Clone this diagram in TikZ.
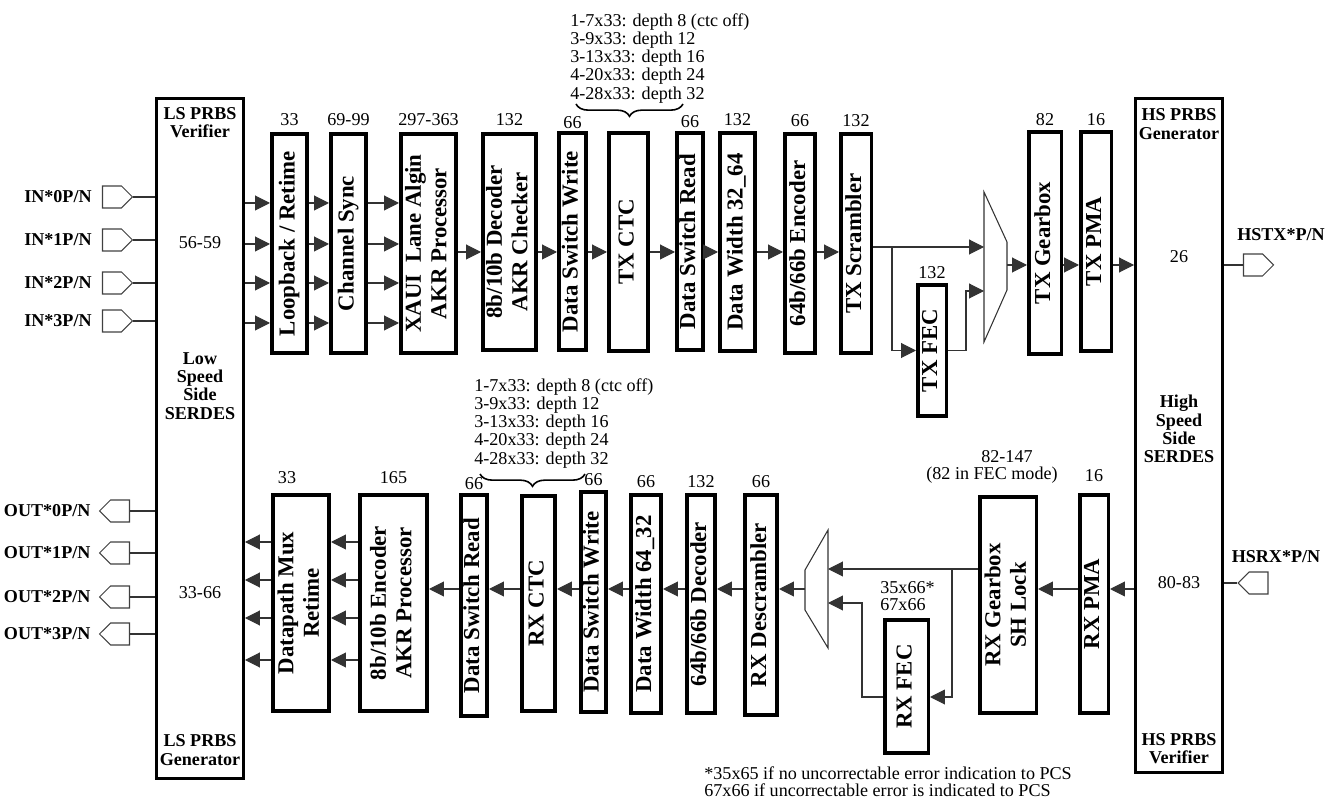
\documentclass[tikz,border=0pt]{standalone}
\usepackage{fontspec}
\setmainfont{Liberation Serif}
\usepackage{graphicx}
\usetikzlibrary{positioning}
\usetikzlibrary{arrows.meta}
\usetikzlibrary{shapes.symbols}
\usetikzlibrary{decorations.pathreplacing}

\newcommand{\vlbl}[1]{\rotatebox{90}{\begin{tabular}{@{}c@{}}#1\end{tabular}}}

\tikzset{
  blk/.style={draw, line width=2pt, inner sep=0pt, font=\fontsize{13}{14.5}\selectfont\bfseries},
  bw/.style={minimum width=#1*0.02cm},
  bh/.style={minimum height=#1*0.02cm},
  serdes/.style={draw, line width=1.7pt, inner sep=0pt},
  slbl/.style={font=\fontsize{10.3}{10.4}\selectfont\bfseries, align=center, inner sep=0pt},
  num/.style={font=\fontsize{10.3}{10.4}\selectfont, inner sep=0pt},
  note/.style={font=\fontsize{10.3}{10.4}\selectfont, align=left, inner sep=0pt},
  pin/.style={signal, draw=black!75, line width=0.6pt, inner sep=0pt, minimum width=0.6cm, minimum height=0.44cm},
  pinlbl/.style={font=\fontsize{10.3}{10.4}\selectfont\bfseries, inner sep=0pt},
  wire/.style={draw=black!80, line width=0.6pt},
  arr/.style={wire, -{Triangle[length=8.5pt,width=8.5pt]}},
  mux/.style={draw=black!80, line width=0.6pt},
  brc/.style={decorate, decoration={brace, mirror, amplitude=7pt}, line width=0.9pt},
}

\begin{document}
\begin{tikzpicture}[x=0.02cm, y=-0.02cm]
    \useasboundingbox (0,0) rectangle (1333,800);

    % serdes blocks
    \node[serdes, bw=87, bh=680] (ls) at (200,438.5) {};
    \node[serdes, bw=87, bh=674] (hs) at (1179,435.5) {};

    \node[slbl] (lsv) at (200,123) {LS PRBS\\Verifier};
    \node[num] (lsn1) at (200,243) {56-59};
    \node[slbl] (lsd) at (200,386) {Low\\Speed\\Side\\SERDES};
    \node[num] (lsn2) at (200,593) {33-66};
    \node[slbl] (lsg) at (200,750) {LS PRBS\\Generator};

    \node[slbl] (hsg) at (1179,124) {HS PRBS\\Generator};
    \node[num] (hsn1) at (1179,257) {26};
    \node[slbl] (hsd) at (1179,429) {High\\Speed\\Side\\SERDES};
    \node[num] (hsn2) at (1179,583) {80-83};
    \node[slbl] (hsv) at (1179,749) {HS PRBS\\Verifier};

    % pins
    \foreach \i/\y in {0/197,1/240,2/283,3/321} {
        \node[pin, signal to=east] (in\i) at (112,\y) {};
        \node[pinlbl, left=0.2cm of in\i] (inl\i) {IN*\i P/N};
        \draw[wire] (in\i.east) -- (ls.west |- in\i);
    }
    \foreach \i/\y in {0/511,1/553,2/597,3/634} {
        \node[pin, signal to=west] (out\i) at (120,\y) {};
        \node[pinlbl, left=0.16cm of out\i] (outl\i) {OUT*\i P/N};
        \draw[wire] (out\i.east) -- (ls.west |- out\i);
    }
    \node[pin, signal to=east] (hstx) at (1253,265) {};
    \draw[wire] (hs.east |- hstx) -- (hstx.west);
    \node[pinlbl] (hstxl) at (1281,235) {HSTX*P/N};
    \node[pin, signal to=west] (hsrx) at (1258.5,583) {};
    \draw[wire] (hs.east |- hsrx) -- (hsrx.west);
    \node[pinlbl] (hsrxl) at (1276,557) {HSRX*P/N};

    % transmit path
    \node[blk, bw=35.5, bh=219.5] (lbk) at (289.5,243.5) {\vlbl{Loopback / Retime}};
    \node[blk, bw=35.5, bh=219.5] (chs) at (348.5,243.5) {\vlbl{Channel Sync}};
    \node[blk, bw=55.5, bh=219.5] (xaui) at (428.5,243.5) {\vlbl{XAUI~ Lane Algin\\AKR Processor}};
    \node[blk, bw=53.5, bh=216.5] (dec8) at (509.5,242) {\vlbl{8b/10b Decoder\\AKR Checker}};
    \node[blk, bw=27.5, bh=217.5] (dswt) at (572.5,241.5) {\vlbl{Data Switch Write}};
    \node[blk, bw=39.5, bh=218.5] (txctc) at (628.5,242) {\vlbl{TX CTC}};
    \node[blk, bw=26.5, bh=217.5] (dsrt) at (690,241.5) {\vlbl{Data Switch Read}};
    \node[blk, bw=35.5, bh=218.5] (dw3264) at (737.5,242) {\vlbl{Data Width 32\_64}};
    \node[blk, bw=30.5, bh=219.5] (enc64) at (800,243.5) {\vlbl{64b/66b Encoder}};
    \node[blk, bw=30.5, bh=219.5] (scr) at (856,243.5) {\vlbl{TX Scrambler}};
    \node[blk, bw=28.5, bh=131.5] (txfec) at (932,350.5) {\vlbl{TX FEC}};
    \node[blk, bw=32.5, bh=222.5] (txgb) at (1045,243) {\vlbl{TX Gearbox}};
    \node[blk, bw=30.5, bh=219.5] (txpma) at (1096,241.5) {\vlbl{TX PMA}};

    \node[num, above=3.5pt of lbk] (lbkn) {33};
    \node[num, above=3.5pt of chs] (chsn) {69-99};
    \node[num, above=3.5pt of xaui] (xauin) {297-363};
    \node[num, above=3.5pt of dec8] (dec8n) {132};
    \node[num, above=1pt of dswt] (dswtn) {66};
    \node[num, above=1.5pt of dsrt] (dsrtn) {66};
    \node[num, above=3pt of dw3264] (dw3264n) {132};
    \node[num, above=3pt of enc64] (enc64n) {66};
    \node[num, above=3pt of scr] (scrn) {132};
    \node[num, above=2.5pt of txfec] (txfecn) {132};
    \node[num, above=2pt of txgb] (txgbn) {82};
    \node[num, above=2pt of txpma] (txpman) {16};

    \node[note, anchor=north west] (txnote) at (570,13) {1-7x33: depth 8 (ctc off)\\3-9x33: depth 12\\3-13x33: depth 16\\4-20x33: depth 24\\4-28x33: depth 32};
    \draw[brc] (576,104) -- (683,104);

    \foreach \y in {203,244,283,323} {
        \draw[arr] (ls.east |- 0,\y) -- (lbk.west |- 0,\y);
        \draw[arr] (lbk.east |- 0,\y) -- (chs.west |- 0,\y);
        \draw[arr] (chs.east |- 0,\y) -- (xaui.west |- 0,\y);
    }
    \foreach \a/\b in {xaui/dec8,dec8/dswt,dswt/txctc,txctc/dsrt,dsrt/dw3264,dw3264/enc64,enc64/scr}
        \draw[arr] (\a.east |- 0,252) -- (\b.west |- 0,252);

    \draw[mux] (984,192) -- (1007,242) -- (1007,290) -- (984,342) -- cycle;
    \coordinate (txmuxa) at (984,247);
    \coordinate (txmuxb) at (984,291);
    \coordinate (txmuxo) at (1007,265);
    \coordinate (txbr) at (892,247);
    \coordinate (txfj) at (966,291);
    \draw[arr] (scr.east |- txmuxa) -- (txmuxa);
    \draw[arr] (txbr) |- (txfec.west);
    \draw[arr] (txfec.east) -| (txfj) -- (txmuxb);
    \draw[arr] (txmuxo) -- (txgb.west |- txmuxo);
    \draw[arr] (txgb.east |- txmuxo) -- (txpma.west |- txmuxo);
    \draw[arr] (txpma.east |- txmuxo) -- (hs.west |- txmuxo);

    % receive path
    \node[blk, bw=56.5, bh=216.5] (dpm) at (301,603) {\vlbl{Datapath Mux\\Retime}};
    \node[blk, bw=67.5, bh=216.5] (enc8) at (393.5,603) {\vlbl{8b/10b Encoder\\AKR Processor}};
    \node[blk, bw=26.5, bh=221.5] (dsrr) at (474,605.5) {\vlbl{Data Switch Read}};
    \node[blk, bw=33.5, bh=215.5] (rxctc) at (538.5,603.5) {\vlbl{RX CTC}};
    \node[blk, bw=25.5, bh=220.5] (dswr) at (593.5,602) {\vlbl{Data Switch Write}};
    \node[blk, bw=30.5, bh=218.5] (dw6432) at (646,604) {\vlbl{Data Width 64\_32}};
    \node[blk, bw=28.5, bh=218.5] (dec64) at (701,604) {\vlbl{64b/66b Decoder}};
    \node[blk, bw=32.5, bh=220.5] (dscr) at (761,605) {\vlbl{RX Descrambler}};
    \node[blk, bw=43.5, bh=133.5] (rxfec) at (906.5,686.5) {\vlbl{RX FEC}};
    \node[blk, bw=56.5, bh=216.5] (rxgb) at (1008,605) {\vlbl{RX Gearbox\\SH Lock}};
    \node[blk, bw=28.5, bh=218.5] (rxpma) at (1094,604) {\vlbl{RX PMA}};

    \node[num, above=5pt of dpm, xshift=-0.28cm] (dpmn) {33};
    \node[num, above=5pt of enc8] (enc8n) {165};
    \node[num, above=1.5pt of dsrr] (dsrrn) {66};
    \node[num, above=2pt of dswr] (dswrn) {66};
    \node[num, above=3pt of dw6432] (dw6432n) {66};
    \node[num, above=3pt of dec64] (dec64n) {132};
    \node[num, above=3pt of dscr] (dscrn) {66};
    \node[num, above=6.5pt of rxpma] (rxpman) {16};
    \node[num] (rxgbn) at (1007,457) {82-147};
    \node[num] (rxgbm) at (992,475) {(82 in FEC mode)};
    \node[num, anchor=south west, align=left, font=\fontsize{10.3}{9.7}\selectfont] (rxfecn) at (880,611) {35x66*\\67x66};

    \node[note, anchor=north west] (rxnote) at (474,378) {1-7x33: depth 8 (ctc off)\\3-9x33: depth 12\\3-13x33: depth 16\\4-20x33: depth 24\\4-28x33: depth 32};
    \draw[brc] (480,474) -- (585,474);

    \draw[arr] (hs.west |- 0,589) -- (rxpma.east |- 0,589);
    \draw[arr] (rxpma.west |- 0,589) -- (rxgb.east |- 0,589);

    \draw[mux] (828,530) -- (805,570) -- (805,610) -- (828,648) -- cycle;
    \coordinate (rxmuxa) at (828,569);
    \coordinate (rxmuxb) at (828,603);
    \coordinate (rxmuxo) at (805,589);
    \coordinate (rxbr) at (952,569);
    \coordinate (rxfj) at (862,603);
    \draw[arr] (rxgb.west |- rxmuxa) -- (rxmuxa);
    \draw[arr] (rxbr) |- (rxfec.east |- 0,697);
    \draw[arr] (rxfec.west |- 0,697) -| (rxfj) -- (rxmuxb);
    \draw[arr] (rxmuxo) -- (dscr.east |- rxmuxo);
    \foreach \a/\b in {dscr/dec64,dec64/dw6432,dw6432/dswr,dswr/rxctc,rxctc/dsrr,dsrr/enc8}
        \draw[arr] (\a.west |- 0,589) -- (\b.east |- 0,589);
    \foreach \y in {542,580,618,660} {
        \draw[arr] (enc8.west |- 0,\y) -- (dpm.east |- 0,\y);
        \draw[arr] (dpm.west |- 0,\y) -- (ls.east |- 0,\y);
    }

    \node[note, anchor=north west, font=\fontsize{10.3}{9.7}\selectfont] (fnote) at (704,766) {*35x65 if no uncorrectable error indication to PCS\\67x66 if uncorrectable error is indicated to PCS};
\end{tikzpicture}
\end{document}
